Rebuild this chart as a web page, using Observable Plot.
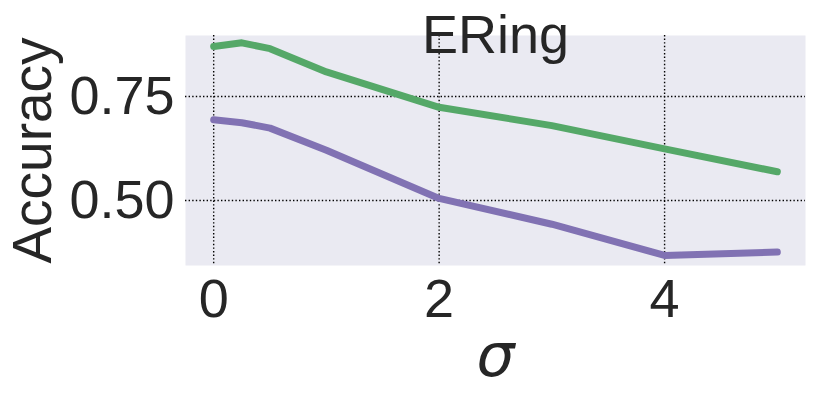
<!DOCTYPE html>
<html>
<head>
<meta charset="utf-8">
<script src="https://cdn.jsdelivr.net/npm/d3@7"></script>
<script src="https://cdn.jsdelivr.net/npm/@observablehq/plot@0.6"></script>
<style>
  html, body { margin: 0; padding: 0; background: #fff; }
  #chart svg { display: block; }
</style>
</head>
<body>
<div id="chart"></div>
<script>
const sigma = [0, 0.25, 0.5, 1, 2, 3, 4, 5];
const seriesA = [0.870, 0.879, 0.865, 0.809, 0.724, 0.680, 0.624, 0.569];
const seriesB = [0.694, 0.687, 0.674, 0.621, 0.505, 0.443, 0.368, 0.376];
const xTicks = [0, 2, 4];
const yTicks = [0.50, 0.75];
const title = "ERing";

const rows = [];
sigma.forEach((s, i) => {
  rows.push({sigma: s, acc: seriesA[i], series: "A"});
  rows.push({sigma: s, acc: seriesB[i], series: "B"});
});

const font = "'Liberation Sans', Arial, sans-serif";
const ink = "#262626";

const chart = Plot.plot({
  width: 814,
  height: 393,
  marginLeft: 185,
  marginRight: 9,
  marginTop: 35,
  marginBottom: 128,
  style: {fontFamily: font, color: ink, background: "#fff"},
  x: {domain: [-0.25, 5.25]},
  y: {domain: [0.3438, 0.8966]},
  color: {domain: ["A", "B"], range: ["#55A868", "#8172B3"]},
  marks: [
    Plot.frame({fill: "#EAEAF2", stroke: null}),
    Plot.ruleX(xTicks, {stroke: "#000", strokeWidth: 1.4, strokeDasharray: "1.4,2.2"}),
    Plot.ruleY(yTicks, {stroke: "#000", strokeWidth: 1.4, strokeDasharray: "1.4,2.2"}),
    Plot.line(rows, {x: "sigma", y: "acc", z: "series", stroke: "series", strokeWidth: 7, strokeLinecap: "round", strokeLinejoin: "round"}),
    Plot.axisX({ticks: xTicks, tickSize: 0, tickPadding: 13, fontSize: 54, label: null, tickFormat: d3.format("d")}),
    Plot.axisX({ticks: [], tickSize: 0, label: "σ", labelAnchor: "center", labelArrow: "none", labelOffset: 110, fontSize: 60, fontStyle: "italic", fontFamily: "'DejaVu Sans', sans-serif"}),
    Plot.axisY({ticks: yTicks, tickSize: 0, tickPadding: 11, fontSize: 54, label: null, tickFormat: d3.format(".2f")}),
    Plot.axisY({ticks: [], tickSize: 0, label: "Accuracy", labelAnchor: "center", labelArrow: "none", labelOffset: 174, fontSize: 55}),
    Plot.text([title], {frameAnchor: "top", lineAnchor: "bottom", dy: 17, fontSize: 54, fill: ink, text: d => d})
  ]
});
document.getElementById("chart").appendChild(chart);
</script>
</body>
</html>
